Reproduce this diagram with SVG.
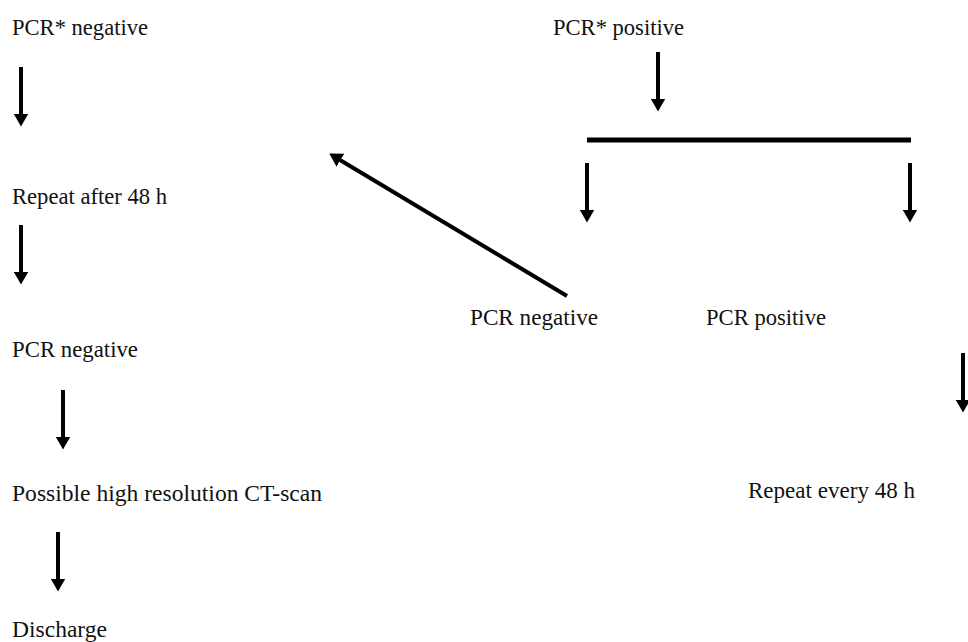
<svg xmlns="http://www.w3.org/2000/svg" width="968" height="642" viewBox="0 0 968 642">
<defs>
<marker id="ah" markerUnits="userSpaceOnUse" markerWidth="14" markerHeight="15" refX="0.5" refY="7.5" orient="auto">
<path d="M0,0 L13,7.5 L0,15 z" fill="#000"/>
</marker>
<style>
.t{font-size:22.5px;fill:#111}
.c line{stroke:#000;stroke-width:4;marker-end:url(#ah)}
</style>
</defs>
<rect width="968" height="642" fill="#fff"/>
<g font-family="Liberation Serif, Times New Roman, serif" class="t">
<g id="n1"><text x="12" y="35" textLength="136" lengthAdjust="spacingAndGlyphs">PCR* negative</text></g>
<g id="n2"><text x="12" y="204" textLength="155" lengthAdjust="spacingAndGlyphs">Repeat after 48 h</text></g>
<g id="n3"><text x="12" y="357" textLength="126" lengthAdjust="spacingAndGlyphs">PCR negative</text></g>
<g id="n4"><text x="12" y="501" textLength="310" lengthAdjust="spacingAndGlyphs">Possible high resolution CT-scan</text></g>
<g id="n5"><text x="12" y="637" textLength="95" lengthAdjust="spacingAndGlyphs">Discharge</text></g>
<g id="n6"><text x="553" y="35" textLength="131" lengthAdjust="spacingAndGlyphs">PCR* positive</text></g>
<g id="n7"><text x="470" y="325" textLength="128" lengthAdjust="spacingAndGlyphs">PCR negative</text></g>
<g id="n8"><text x="706" y="325" textLength="120" lengthAdjust="spacingAndGlyphs">PCR positive</text></g>
<g id="n9"><text x="748" y="498" textLength="167" lengthAdjust="spacingAndGlyphs">Repeat every 48 h</text></g>
</g>
<g id="connectors" class="c">
<line x1="21" y1="67" x2="21" y2="114"/>
<line x1="21" y1="225" x2="21" y2="272"/>
<line x1="63" y1="390" x2="63" y2="437"/>
<line x1="58" y1="532" x2="58" y2="579"/>
<line x1="658" y1="52" x2="658" y2="99"/>
<line x1="587" y1="140" x2="911" y2="140" style="marker-end:none;stroke-width:5"/>
<line x1="587" y1="163" x2="587" y2="210"/>
<line x1="910" y1="163" x2="910" y2="210"/>
<line x1="567" y1="296" x2="340" y2="160"/>
<line x1="963" y1="353" x2="963" y2="400"/>
</g>
</svg>
